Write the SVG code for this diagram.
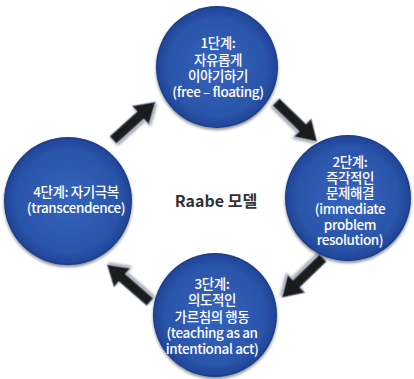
<svg xmlns="http://www.w3.org/2000/svg" width="414" height="379" viewBox="0 0 414 379">
<defs>
<radialGradient id="cg" cx="50%" cy="50%" r="50%">
<stop offset="0%" stop-color="#3563bd"/>
<stop offset="80%" stop-color="#2b55aa"/>
<stop offset="96%" stop-color="#21479a"/>
<stop offset="100%" stop-color="#1a3b85"/>
</radialGradient>
<filter id="sh" x="-20%" y="-20%" width="140%" height="140%">
<feGaussianBlur in="SourceAlpha" stdDeviation="1.5"/>
<feOffset dx="0" dy="2" result="b"/>
<feComponentTransfer><feFuncA type="linear" slope="0.45"/></feComponentTransfer>
<feMerge><feMergeNode/><feMergeNode in="SourceGraphic"/></feMerge>
</filter>
<path id="arr" d="M0,-5 L37,-5 L37,-12.5 L57,0 L37,12.5 L37,5 L0,5 Z"/>
</defs>
<style>
.c{fill:url(#cg);filter:url(#sh)}
.t{font-family:"Noto Sans CJK KR","Noto Sans",sans-serif;font-size:13.5px;font-weight:500;fill:#fff;text-anchor:middle;letter-spacing:-0.4px}
.a{fill:#1c1c1c;stroke:#9fb3d6;stroke-width:0.8;filter:url(#sh)}
.m{font-family:"Noto Sans CJK KR","Noto Sans",sans-serif;font-size:16px;font-weight:bold;fill:#333;text-anchor:middle}
</style>
<rect width="414" height="379" fill="#fff"/>
<g id="connectors">
<use href="#arr" class="a" transform="translate(113,140) rotate(-42)"/>
<use href="#arr" class="a" transform="translate(276,102) rotate(44)"/>
<use href="#arr" class="a" transform="translate(323,258) rotate(136)"/>
<use href="#arr" class="a" transform="translate(150,302) rotate(-139)"/>
</g>
<g id="step1">
<circle class="c" cx="217" cy="67" r="61"/>
<text class="t" x="218" y="48">1단계:</text>
<text class="t" x="218" y="65">자유롭게</text>
<text class="t" x="218" y="81">이야기하기</text>
<text class="t" x="218" y="97">(free – floating)</text>
</g>
<g id="step2">
<circle class="c" cx="348" cy="198" r="63"/>
<text class="t" x="350" y="167">2단계:</text>
<text class="t" x="350" y="183">즉각적인</text>
<text class="t" x="350" y="198">문제해결</text>
<text class="t" x="350" y="214">(immediate</text>
<text class="t" x="350" y="230">problem</text>
<text class="t" x="350" y="245">resolution)</text>
</g>
<g id="step3">
<circle class="c" cx="215" cy="315" r="62"/>
<text class="t" x="212" y="289">3단계:</text>
<text class="t" x="212" y="305">의도적인</text>
<text class="t" x="212" y="322">가르침의 행동</text>
<text class="t" x="212" y="338">(teaching as an</text>
<text class="t" x="212" y="354">intentional act)</text>
</g>
<g id="step4">
<circle class="c" cx="68" cy="201" r="64"/>
<text class="t" x="76" y="197">4단계: 자기극복</text>
<text class="t" x="76" y="213">(transcendence)</text>
</g>
<g id="center">
<text class="m" x="216" y="207">Raabe 모델</text>
</g>
</svg>
